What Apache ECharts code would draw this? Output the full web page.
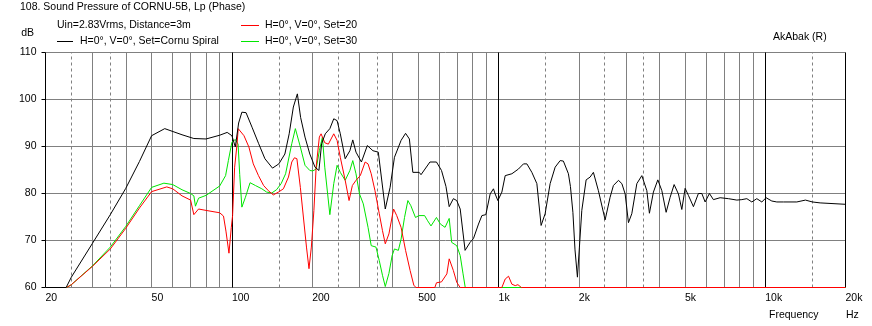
<!DOCTYPE html>
<html>
<head>
<meta charset="utf-8">
<script src="https://cdn.jsdelivr.net/npm/echarts@6/dist/echarts.min.js"></script>
<style>
  html, body { margin: 0; padding: 0; background: #fff; }
  #chart-container { width: 872px; height: 326px; }
</style>
</head>
<body>
<div id="chart-container"></div>
<script>
const FONT = "\"Liberation Sans\", Arial, sans-serif"
const FS = 10.5

// frequency axis ticks (Hz) and their labels
const freqTicks = [20, 50, 100, 200, 500, 1000, 2000, 5000, 10000, 20000]
const freqTickLabels = ["20", "50", "100", "200", "500", "1k", "2k", "5k", "10k", "20k"]

// vertical grid lines
const decadeLines = [20, 100, 1000, 10000, 20000]
const solidLines = [30, 40, 50, 60, 70, 80, 90, 200, 300, 400, 500, 600, 700, 800, 900,
  2000, 3000, 4000, 5000, 6000, 7000, 8000, 9000]
const dashedLines = [25, 35, 150, 250, 350, 1500, 2500, 3500, 15000]

// [Hz, dB]  H=0°, V=0°, Set=Cornu Spiral
const cornuSpiral = [
  [20, 60], [23.9, 60], [25, 62.2], [30, 69.4], [35, 75.5], [40, 81.1], [45, 86.8],
  [50, 92.3], [56, 93.8], [65, 92.5], [72, 91.7], [80, 91.6], [90, 92.4], [96, 93],
  [100, 92.3], [103, 89.9], [106, 95], [109, 97.3], [113, 97.2], [119, 94.1],
  [126, 90.6], [133, 87.4], [142, 85.4], [150, 86.3], [158, 88.4], [164, 92.7],
  [170, 98.4], [176, 101.2], [181, 96.2], [188, 92], [196, 88.4], [205, 85.6],
  [212, 84.9], [217, 90.6], [224, 92.7], [233, 93.8], [241, 95.9], [248, 95.5],
  [255, 92.7], [266, 87.4], [277, 89.1], [284, 91.4], [292, 88.8], [306, 86.7],
  [322, 90.2], [338, 89.1], [354, 88.8], [376, 76.7], [392, 81.3], [407, 87.7],
  [431, 91.3], [448, 92.8], [463, 91.6], [477, 84.5], [504, 84.5], [512, 84],
  [553, 86.7], [585, 86.7], [611, 84.9], [635, 81.5], [653, 77.2], [677, 78.9],
  [697, 78.5], [718, 76.7], [749, 67.9], [782, 69.6], [805, 70.4], [841, 73.5],
  [866, 75.3], [896, 75.5], [930, 79.9], [957, 81], [971, 79.9], [994, 78.5],
  [1029, 80.3], [1059, 83.8], [1122, 84.2], [1187, 85.2], [1240, 86.3], [1277, 86.3],
  [1333, 84.5], [1392, 82.1], [1444, 73.2], [1495, 75.7], [1561, 82.1], [1630, 85.6],
  [1702, 87], [1750, 86.9], [1828, 84.2], [1860, 81.5], [1900, 76], [1935, 68],
  [1976, 62.2], [2010, 68.6], [2052, 76.4], [2130, 82.9], [2205, 83.5], [2268, 84.5],
  [2368, 80.6], [2510, 74.4], [2620, 79.2], [2696, 81.7], [2816, 82.8], [2900, 82.1],
  [2984, 79.9], [3070, 73.8], [3160, 75.7], [3300, 82.1], [3446, 83.8], [3598, 80.6],
  [3679, 75.8], [3808, 80.3], [3956, 82.9], [4096, 80.6], [4250, 76], [4400, 79.2],
  [4554, 81.9], [4726, 79.9], [4866, 76.6], [5008, 81.1], [5152, 79.6], [5380, 77.2],
  [5616, 80], [5784, 80], [5952, 78.2], [6177, 80], [6392, 78.7], [6775, 79.1],
  [7276, 78.9], [7826, 78.6], [8172, 78.7], [8532, 78.9], [8906, 78.2], [9300, 78.9],
  [9710, 78.2], [10076, 79.1], [10586, 78.4], [11052, 78.2], [11698, 78.2],
  [13138, 78.2], [14150, 78.6], [15030, 78.2], [16064, 78], [20000, 77.7]
]

// [Hz, dB]  H=0°, V=0°, Set=20
const set20 = [
  [24, 60], [25, 60.6], [30, 64.5], [35, 68.2], [40, 72.6], [45, 76.9], [50, 80.4],
  [57, 81.4], [60, 81], [65, 79.5], [70, 78.6], [72, 75.5], [75, 76.7], [80, 76.4],
  [90, 75.9], [93, 75.2], [95, 72], [97.5, 67.3], [99.5, 72.8], [100.6, 75.3],
  [102.4, 85.6], [104.6, 90.6], [105.6, 93.8], [107, 93.8], [111, 92.3], [115.8, 89.9],
  [120.3, 86.3], [125.8, 83.8], [131.5, 81.7], [137, 80.6], [143, 79.7], [149.5, 80.3],
  [156, 81], [163, 83.5], [167.7, 86.7], [171.6, 87.6], [175.3, 87.4], [180.6, 81.3],
  [185.4, 75], [190.4, 68.6], [194.6, 64], [198.6, 68.6], [203, 76.4], [207, 85.6],
  [212.8, 92], [216, 92.7], [223, 90.8], [230, 90.5], [241, 92.7], [248, 91.3],
  [255, 87.7], [266, 82.8], [275, 78.5], [283, 81.7], [292, 82.8], [303, 83.8],
  [316, 86.7], [324, 86.3], [333, 84.2], [344, 80.6], [357, 75.7], [367, 72.1],
  [376, 69.3], [388, 71.4], [404, 76.7], [415, 75.3], [431, 72.8], [448, 67.9],
  [466, 63.6], [481, 60.5], [490, 60], [577, 60], [585, 61], [611, 61.2], [640, 62.9],
  [653, 66.1], [677, 63.6], [697, 61.1], [718, 60], [1029, 60], [1059, 61.8],
  [1090, 62.4], [1122, 60.7], [1155, 60.4], [1182, 60.6], [1218, 60], [20000, 60]
]

// [Hz, dB]  H=0°, V=0°, Set=30
const set30 = [
  [24, 60], [25, 60.6], [30, 64.6], [35, 68.6], [40, 73], [45, 77.4], [50, 81.3],
  [55.6, 82.2], [60, 81.9], [65, 80.8], [70, 80], [72, 79.5], [73, 77.3], [75, 79],
  [80, 79.6], [90, 81.6], [94.7, 83.8], [97, 87], [100, 90.9], [103, 91.5],
  [105.5, 90.5], [107, 84], [109, 77.1], [112.4, 79.2], [117, 82.3], [122.5, 81.7],
  [129.5, 81], [135, 80.3], [141, 80.1], [147, 80.8], [153, 82.1], [159, 84.2],
  [167.7, 90.6], [173, 93.8], [175, 94.1], [180.6, 89.9], [188, 86], [196, 84.9],
  [201, 84.8], [207, 85.2], [212.8, 89.1], [218.5, 92], [223, 85.6], [233, 75.5],
  [241, 82.1], [248, 86], [255, 84.5], [266, 82.8], [277, 84.9], [284, 87],
  [292, 84.2], [301, 79.9], [311, 77.8], [324, 72.8], [333, 68.9], [347, 68.6],
  [357, 65.7], [367, 62.6], [376, 60.2], [388, 63], [399, 66.8], [407, 68.2],
  [421, 67.9], [431, 70.3], [444, 74.9], [457, 78.5], [469, 77.4], [488, 74.9],
  [503, 75.3], [528, 75.3], [542, 74.2], [558, 73.1], [585, 74.9], [605, 73.5],
  [630, 72.8], [653, 74.7], [667, 69.6], [697, 68.9], [718, 66.8], [736, 62.9],
  [750, 60], [20000, 60]
]

var dom = document.getElementById("chart-container")
var myChart = echarts.init(dom, null, { renderer: "canvas" })

const tickLabelFor = (f) => {
  const i = freqTicks.indexOf(f)
  return i < 0 ? "" : freqTickLabels[i]
}

const gridLine = (f, lineStyle) => ({
  xAxis: f,
  lineStyle,
  label: {
    show: freqTicks.includes(f),
    formatter: tickLabelFor(f)
  }
})

const gridLines = [
  // 60 dB floor, drawn here so the curves lying on it stay on top
  { yAxis: 60, lineStyle: { color: "#808080", type: "solid", width: 1 }, label: { show: false } },
  ...solidLines.map((f) => gridLine(f, { color: "#808080", type: "solid", width: 1 })),
  ...dashedLines.map((f) => gridLine(f, { color: "#808080", type: [3, 3], width: 1 })),
  ...decadeLines.map((f) => gridLine(f, { color: "#000", type: "solid", width: 1 }))
]

// curves are already floored at 60 dB, so no clipping (it would halve the floor line)
const commonSerieOptions = {
  type: "line",
  showSymbol: false,
  symbol: "none",
  silent: true,
  clip: false,
  lineStyle: { width: 1 }
}

const txt = (text, x, y, extra) => ({
  type: "text",
  x,
  y,
  silent: true,
  style: {
    text,
    fill: "#000",
    font: FS + "px " + FONT,
    align: "left",
    verticalAlign: "middle",
    ...extra
  }
})

const legendLine = (x1, x2, y, color) => ({
  type: "line",
  silent: true,
  shape: { x1, y1: y, x2, y2: y },
  style: { stroke: color, lineWidth: 1 }
})

var option = {
  animation: false,
  backgroundColor: "#fff",
  // half-pixel edges keep the 10 dB grid and the 60 dB floor crisp
  grid: { left: 45.5, right: 26.5, top: 52.5, bottom: 38.5, containLabel: false },
  xAxis: {
    type: "log",
    logBase: 10,
    min: 20,
    max: 20000,
    z: 0,
    axisLine: { show: false },
    axisTick: { show: false },
    axisLabel: { show: false },
    splitLine: { show: false }
  },
  yAxis: {
    type: "value",
    min: 60,
    max: 110,
    interval: 10,
    z: 0,
    axisLine: { show: false },
    axisTick: { show: true, length: 4, lineStyle: { color: "#000" } },
    axisLabel: {
      color: "#000",
      fontSize: FS,
      fontFamily: FONT,
      margin: 9,
      padding: [0, 0, 6, 0]
    },
    splitLine: { show: true, showMinLine: false, lineStyle: { color: "#808080", width: 1 } }
  },
  graphic: [
    txt("108. Sound Pressure of CORNU-5B, Lp (Phase)", 20, 7),
    txt("Uin=2.83Vrms, Distance=3m", 57, 25),
    legendLine(57, 73, 41.5, "#000"),
    txt("H=0°, V=0°, Set=Cornu Spiral", 80, 41),
    legendLine(241, 259, 25.5, "#ff0000"),
    txt("H=0°, V=0°, Set=20", 265, 25),
    legendLine(241, 259, 41.5, "#00e600"),
    txt("H=0°, V=0°, Set=30", 265, 41),
    txt("dB", 34, 33, { align: "right" }),
    txt("AkAbak (R)", 773, 37),
    txt("Frequency", 769, 315),
    txt("Hz", 846, 315)
  ],
  series: [
    {
      type: "line",
      data: [],
      silent: true,
      z: 1,
      markLine: {
        silent: true,
        animation: false,
        symbol: ["none", "none"],
        label: {
          position: "start",
          align: "left",
          distance: 5,
          color: "#000",
          fontSize: FS,
          fontFamily: FONT
        },
        emphasis: { disabled: true },
        data: gridLines
      }
    },
    { ...commonSerieOptions, name: "Set=30", z: 10, data: set30, lineStyle: { width: 1, color: "#00e600" } },
    { ...commonSerieOptions, name: "Set=20", z: 11, data: set20, lineStyle: { width: 1, color: "#ff0000" } },
    { ...commonSerieOptions, name: "Set=Cornu Spiral", z: 12, data: cornuSpiral, lineStyle: { width: 1, color: "#000" } }
  ]
}

myChart.setOption(option)
window.addEventListener("resize", myChart.resize)
</script>
</body>
</html>
